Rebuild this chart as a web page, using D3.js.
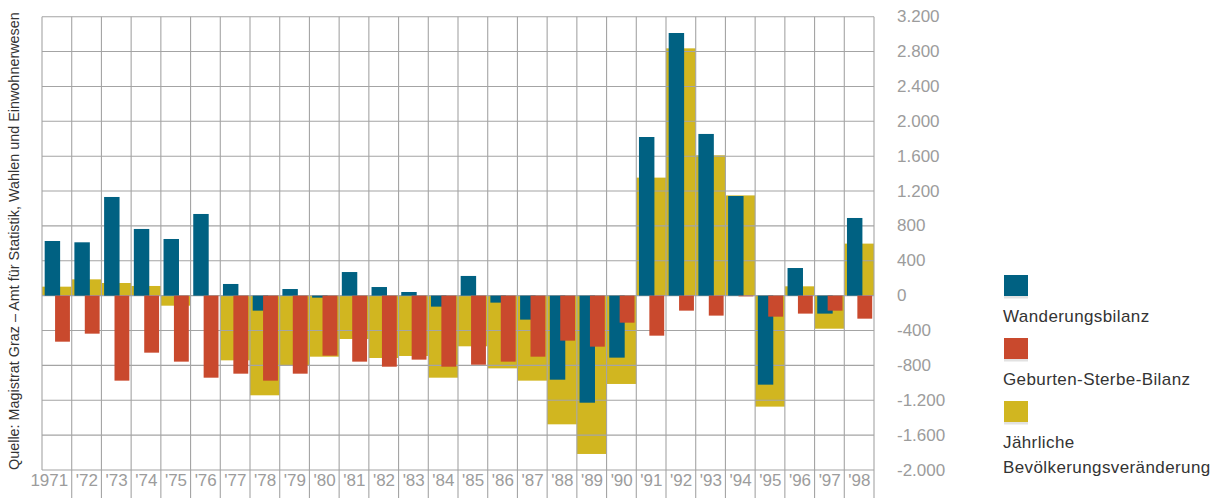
<!DOCTYPE html>
<html>
<head>
<meta charset="utf-8">
<script src="https://cdn.jsdelivr.net/npm/d3@7"></script>
<style>
  body { margin: 0; background: #fff; }
  svg { display: block; font-family: "Liberation Sans", Arial, Helvetica, sans-serif; }
</style>
</head>
<body>
<svg id="chart" width="1226" height="500"></svg>
<script>
// years (x categories)
const years = ["1971", "'72", "'73", "'74", "'75", "'76", "'77", "'78", "'79", "'80",
  "'81", "'82", "'83", "'84", "'85", "'86", "'87", "'88", "'89", "'90",
  "'91", "'92", "'93", "'94", "'95", "'96", "'97", "'98"];

// Wanderungsbilanz
const migration = [627, 612, 1132, 765, 650, 937, 134, -172, 76, -23,
  271, 99, 42, -126, 226, -80, -275, -964, -1228, -711,
  1820, 3013, 1855, 1143, -1021, 317, -206, 891];

// Geburten-Sterbe-Bilanz
const natural = [-528, -436, -975, -654, -757, -941, -895, -975, -895, -688,
  -757, -815, -734, -815, -792, -757, -700, -516, -585, -310,
  -459, -172, -229, -8, -241, -206, -172, -264];

// Jährliche Bevölkerungsveränderung
const totalChange = [103, 187, 145, 111, -115, -4, -742, -1143, -807, -700,
  -497, -715, -692, -941, -581, -834, -975, -1476, -1816, -1013,
  1354, 2837, 1610, 1150, -1273, 107, -379, 597];

const yTicks = [3200, 2800, 2400, 2000, 1600, 1200, 800, 400, 0, -400, -800, -1200, -1600, -2000];

const legendItems = [
  { lines: ["Wanderungsbilanz"], color: "#006182" },
  { lines: ["Geburten-Sterbe-Bilanz"], color: "#c9492d" },
  { lines: ["Jährliche", "Bevölkerungsveränderung"], color: "#d1b620" }
];

const svg = d3.select("#chart");
const plotLeft = 42, plotRight = 874, plotTop = 16.7, plotBottom = 470;

const x = d3.scaleBand().domain(years).range([plotLeft, plotRight]).padding(0);
const y = d3.scaleLinear().domain([-2000, 3200]).range([plotBottom, plotTop]);
const bw = x.bandwidth();

const fmt = v => d3.format(",")(v).replace(/,/g, ".").replace("−", "-");

// yellow total bars (under the grid)
svg.append("g").selectAll("rect")
  .data(totalChange)
  .join("rect")
  .attr("x", (d, i) => x(years[i]))
  .attr("width", bw)
  .attr("y", d => y(Math.max(0, d)))
  .attr("height", d => Math.abs(y(d) - y(0)))
  .attr("fill", legendItems[2].color);

// grid
const grid = svg.append("g").attr("stroke", "#a4a4a4").attr("stroke-width", 1.1);
grid.selectAll("line.h")
  .data(yTicks)
  .join("line")
  .attr("class", "h")
  .attr("x1", plotLeft).attr("x2", plotRight)
  .attr("y1", d => y(d)).attr("y2", d => y(d));
grid.append("line")
  .attr("x1", plotLeft).attr("x2", plotLeft)
  .attr("y1", plotTop).attr("y2", plotBottom);
grid.selectAll("line.v")
  .data(years)
  .join("line")
  .attr("class", "v")
  .attr("x1", d => x(d) + bw).attr("x2", d => x(d) + bw)
  .attr("y1", plotTop).attr("y2", 498);

// blue migration bars
svg.append("g").selectAll("rect")
  .data(migration)
  .join("rect")
  .attr("x", (d, i) => x(years[i]) + bw * 0.09)
  .attr("width", bw * 0.52)
  .attr("y", d => y(Math.max(0, d)))
  .attr("height", d => Math.abs(y(d) - y(0)))
  .attr("fill", legendItems[0].color);

// red natural balance bars
svg.append("g").selectAll("rect")
  .data(natural)
  .join("rect")
  .attr("x", (d, i) => x(years[i]) + bw * 0.44)
  .attr("width", bw * 0.5)
  .attr("y", d => y(Math.max(0, d)))
  .attr("height", d => Math.abs(y(d) - y(0)))
  .attr("fill", legendItems[1].color);

// x labels
svg.append("g").selectAll("text")
  .data(years)
  .join("text")
  .attr("x", d => x(d) + bw - 3.5)
  .attr("y", 485.5)
  .attr("text-anchor", "end")
  .attr("font-size", 17)
  .attr("fill", "#9c9c9c")
  .text(d => d);

// y labels (right)
svg.append("g").selectAll("text")
  .data(yTicks)
  .join("text")
  .attr("x", 897)
  .attr("y", d => y(d) + 5.5)
  .attr("font-size", 17)
  .attr("fill", "#9c9c9c")
  .text(d => fmt(d));

// source, rotated
svg.append("text")
  .attr("transform", "translate(18.5,470) rotate(-90)")
  .attr("font-size", 14.4)
  .attr("fill", "#333")
  .text("Quelle: Magistrat Graz – Amt für Statistik, Wahlen und Einwohnerwesen");

// legend
const legendTop = [275, 338, 401];
const lg = svg.append("g");
legendItems.forEach((item, i) => {
  lg.append("rect")
    .attr("x", 1004).attr("y", legendTop[i] + 21)
    .attr("width", 24).attr("height", 2.5)
    .attr("fill", "#e2e2e2");
  lg.append("rect")
    .attr("x", 1004).attr("y", legendTop[i])
    .attr("width", 24).attr("height", 21)
    .attr("fill", item.color);
  item.lines.forEach((line, j) => {
    lg.append("text")
      .attr("x", 1003)
      .attr("y", legendTop[i] + 47 + j * 24.5)
      .attr("font-size", 17)
      .attr("letter-spacing", 0.4)
      .attr("fill", "#333")
      .text(line);
  });
});
</script>
</body>
</html>
